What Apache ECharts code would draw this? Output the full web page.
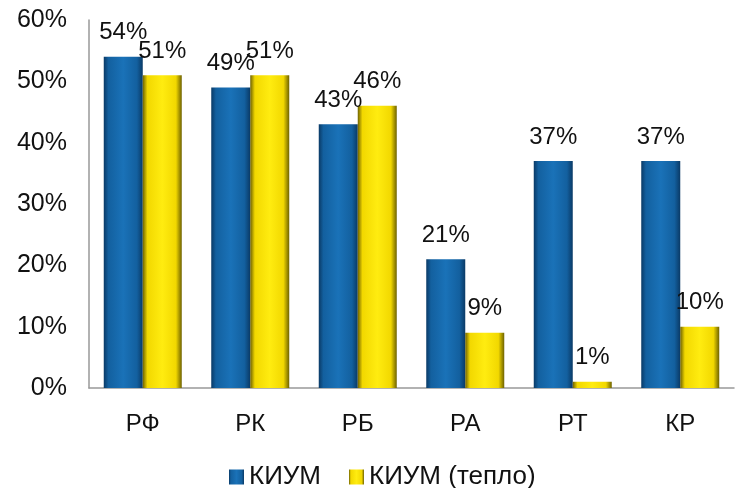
<!DOCTYPE html>
<html><head><meta charset="utf-8">
<script src="https://cdn.jsdelivr.net/npm/echarts@6/dist/echarts.min.js"></script>
<style>html,body{margin:0;padding:0;background:#fff}#c{width:735px;height:488px}</style>
</head><body><div id="c"></div>
<script>
const categories = ['РФ','РК','РБ','РА','РТ','КР'];
const kium = [54,49,43,21,37,37];
const kiumHeat = [51,51,46,9,1,10];
const seriesNames = ['КИУМ','КИУМ (тепло)'];

function grad(edge, mid, light){
  return new echarts.graphic.LinearGradient(0,0,1,0,[
    {offset:0,color:edge},{offset:0.12,color:mid},{offset:0.5,color:light},{offset:0.85,color:mid},{offset:1,color:edge}
  ]);
}
const chart = echarts.init(document.getElementById('c'));
const font = 'Liberation Sans, Arial, sans-serif';
const lbl = {show:true,position:'top',distance:12,formatter:'{c}%',fontSize:24,fontFamily:font,color:'#111'};
chart.setOption({
  animation:false,
  grid:{left:89,right:1,top:20,bottom:100},
  legend:{top:459,left:224,itemWidth:15,itemHeight:15,itemGap:28,
    textStyle:{fontSize:26,fontFamily:font,color:'#111',padding:[0,0,0,0]},
    data:[{name:seriesNames[0],icon:'rect'},{name:seriesNames[1],icon:'rect'}]},
  xAxis:{type:'category',data:categories,axisTick:{show:false},
    axisLine:{lineStyle:{color:'#999',width:1.5}},
    axisLabel:{fontSize:24,fontFamily:font,color:'#111',margin:24}},
  yAxis:{type:'value',min:0,max:60,interval:10,splitLine:{show:false},
    axisLine:{show:true,lineStyle:{color:'#999',width:1.5}},
    axisLabel:{formatter:'{value}%',fontSize:25,fontFamily:font,color:'#111',margin:22}},
  series:[
    {name:seriesNames[0],type:'bar',data:kium,barWidth:39,barGap:'0%',
      itemStyle:{color:grad('#0a3a66','#13609f','#1a72b8')},label:lbl},
    {name:seriesNames[1],type:'bar',data:kiumHeat,barWidth:39,
      itemStyle:{color:grad('#6e6200','#f2d800','#ffec10')},label:lbl}
  ]
});
</script></body></html>
